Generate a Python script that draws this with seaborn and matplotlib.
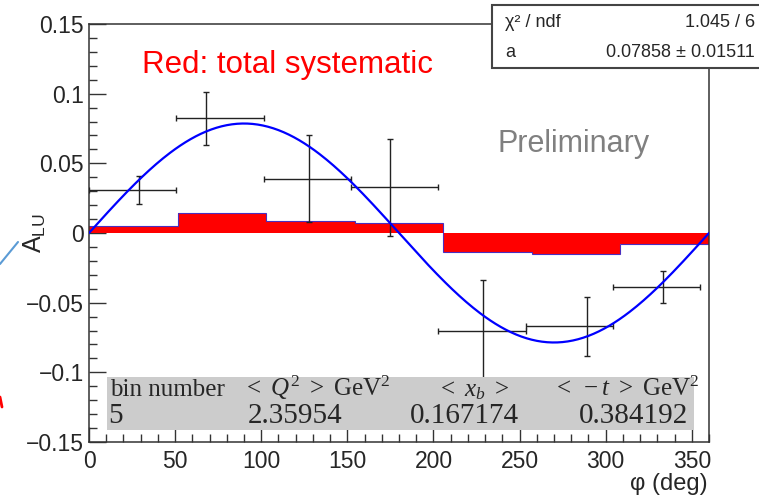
import numpy as np
import pandas as pd
import matplotlib
matplotlib.use("Agg")
import matplotlib.pyplot as plt
from matplotlib.patches import Rectangle
from matplotlib.lines import Line2D
from matplotlib.ticker import MultipleLocator, FuncFormatter
import seaborn as sns

# measured points (mean phi per bin) and asymmetry
phi_mean = [29, 68, 128, 175, 229, 289, 333]
alu = [0.031, 0.0823, 0.039, 0.0328, -0.070, -0.067, -0.0388]
alu_err = [0.010, 0.019, 0.031, 0.035, 0.036, 0.021, 0.0115]
phi_lo = [0, 50.7, 101.4, 152.1, 202.9, 253.6, 304.3]
phi_hi = [50.7, 101.4, 152.1, 202.9, 253.6, 304.3, 355]

# total systematic band (red)
sys_edges = [0, 51.4, 102.9, 154.3, 205.7, 257.1, 308.6, 360]
sys_vals = [0.0052, 0.0146, 0.0088, 0.0070, -0.0134, -0.0153, -0.0081]

# fit result a*sin(phi)
fit_a = 0.07858
fit_a_err = 0.01511
chi2, ndf = 1.045, 6

# kinematics of the bin
kin_headers = ["bin number", r"$<\ Q^2\ >$ GeV$^2$", r"$<\ x_b\ >$", r"$<\ -t\ >$ GeV$^2$"]
kin_values = ["5", "2.35954", "0.167174", "0.384192"]

sns.set_style("ticks")
plt.rcParams["font.family"] = ["Liberation Sans", "DejaVu Sans"]
plt.rcParams["mathtext.fontset"] = "custom"
plt.rcParams["mathtext.rm"] = "Liberation Serif"
plt.rcParams["mathtext.it"] = "Liberation Serif:italic"
plt.rcParams["mathtext.sf"] = "Liberation Sans"

W, H = 759, 497
def fx(px):
    return px / W
def fy(py):
    return 1 - py / H

fig = plt.figure(figsize=(W / 100, H / 100), dpi=100)
ax = fig.add_axes([fx(89), fy(442), 620 / W, 418 / H])

# systematic band
ax.stairs(sys_vals, sys_edges, baseline=0, fill=True, color="red", zorder=2)
ax.stairs(sys_vals, sys_edges, baseline=None, color="#4a2fbf", lw=0.8, zorder=2)

# data points
pts = pd.DataFrame({"phi": phi_mean, "alu": alu, "err": alu_err,
                    "lo": phi_lo, "hi": phi_hi})
xerr = [pts["phi"] - pts["lo"], pts["hi"] - pts["phi"]]
ax.errorbar(pts["phi"], pts["alu"], yerr=pts["err"], xerr=xerr, fmt="none",
            ecolor="#222222", elinewidth=1.0, capsize=2.5, capthick=1.0, zorder=3)

# fit curve
phi_grid = np.linspace(0, 360, 361)
fit = pd.DataFrame({"phi": phi_grid, "y": fit_a * np.sin(np.radians(phi_grid))})
sns.lineplot(data=fit, x="phi", y="y", ax=ax, color="#0000ff", lw=1.6, zorder=4)

ax.set_xlim(0, 360)
ax.set_ylim(-0.15, 0.15)
ax.set_xlabel("")
ax.set_ylabel("")
ax.xaxis.set_major_locator(MultipleLocator(50))
ax.xaxis.set_minor_locator(MultipleLocator(10))
ax.yaxis.set_major_locator(MultipleLocator(0.05))
ax.yaxis.set_minor_locator(MultipleLocator(0.01))
ax.yaxis.set_major_formatter(FuncFormatter(lambda v, p: ("%g" % round(v, 3)).replace("-", "\u2212")))
ax.tick_params(which="major", direction="in", length=12, width=1.0, color="#333333",
               labelsize=16.5, right=False, top=False)
ax.tick_params(which="minor", direction="in", length=6, width=1.0, color="#333333",
               right=False, top=False)
ax.tick_params(axis="x", which="major", pad=6, length=11)
ax.tick_params(axis="y", which="major", pad=3.5)
for s in ax.spines.values():
    s.set_color("#333333")
    s.set_linewidth(1.1)

# axis titles
fig.text(fx(35), fy(233), r"$\mathsf{A_{LU}}$", rotation=90, ha="center", va="center", size=18)
fig.text(fx(708), fy(484), "\u03c6 (deg)", ha="right", va="center", size=17)

# annotations
fig.text(fx(142), fy(73), "Red: total systematic", color="red", size=22.5, va="baseline")
fig.text(fx(497), fy(152), "Preliminary", color="#808080", size=22, va="baseline")

# stats box
fig.add_artist(Rectangle((fx(492), fy(68)), 278 / W, 63 / H, transform=fig.transFigure,
                         facecolor="white", edgecolor="#444444", lw=1.5, zorder=5))
fig.text(fx(505), fy(27), "\u03c7\u00b2 / ndf", size=13, va="baseline", zorder=6)
fig.text(fx(755), fy(27), "%.3f / %d" % (chi2, ndf), size=13, va="baseline", ha="right", zorder=6)
fig.text(fx(505), fy(57), "a", size=13, va="baseline", zorder=6)
fig.text(fx(755), fy(57), "%.5f \u00b1 %.5f" % (fit_a, fit_a_err), size=13, va="baseline",
         ha="right", zorder=6)

# kinematics box
fig.add_artist(Rectangle((fx(107), fy(430)), 587 / W, 53 / H, transform=fig.transFigure,
                         facecolor="#cccccc", edgecolor="none", zorder=5))
head_x = [110, 243, 437, 553]
val_x = [108, 248, 410, 579]
for t, x in zip(kin_headers, head_x):
    fig.text(fx(x), fy(396), t, size=18, va="baseline", family="Liberation Serif", zorder=6)
for t, x in zip(kin_values, val_x):
    fig.text(fx(x), fy(423), t, size=21, va="baseline", family="Liberation Serif", zorder=6)

# slide leftovers outside the frame
fig.add_artist(Line2D([0, fx(18)], [fy(264), fy(242)], color="#5b9bd5", lw=1.5))
fig.add_artist(Line2D([0, fx(2)], [fy(397), fy(407)], color="red", lw=2))

fig.savefig("out.png", dpi=100)
